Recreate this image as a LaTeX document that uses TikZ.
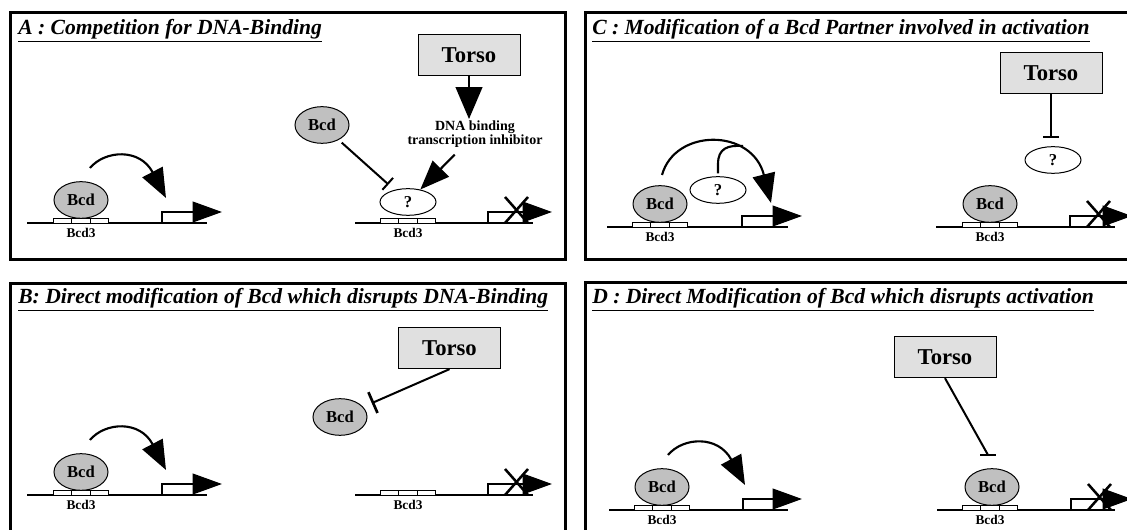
\documentclass[tikz,border=0pt]{standalone}
\usepackage{fontspec}
\setmainfont{Liberation Serif}
\usetikzlibrary{arrows.meta,shapes.geometric,calc}
\definecolor{bcdgray}{RGB}{192,192,192}
\definecolor{torsogray}{RGB}{224,224,224}
\newcommand{\bsite}[3]{%
  \foreach \k in {0,1,2} {\draw[site] ({#2-27.5+18.33*\k},#3) rectangle ({#2-27.5+18.33*(\k+1)},{#3-4.5});}
  \node[sitelab] (#1) at (#2,{#3+10}) {Bcd3};}
\newcommand{\promoter}[4]{%
  \coordinate (#1b) at (#2,#3);
  \coordinate (#1t) at (#4,{#3-11});
  \draw[prom] (#1b) |- (#1t);}
\newcommand{\xmark}[2]{%
  \draw[cross] ({#1-11.5},{#2-26}) -- ({#1+11.5},#2);
  \draw[cross] ({#1+11.5},{#2-26}) -- ({#1-11.5},#2);}
\begin{document}
\begin{tikzpicture}[x=0.75pt,y=-0.75pt,
  panel/.style={draw, line width=2.25pt},
  ttl/.style={anchor=base west, inner sep=0pt, font=\fontsize{16.2}{18}\selectfont\bfseries\itshape},
  bcd/.style={ellipse, draw, line width=0.75pt, fill=bcdgray, minimum width=40.5pt, minimum height=27.5pt, inner sep=0pt, font=\fontsize{12.5}{12.5}\selectfont\bfseries},
  qq/.style={ellipse, draw, line width=0.75pt, fill=white, minimum width=42pt, minimum height=20pt, inner sep=0pt, font=\fontsize{12.5}{12.5}\selectfont\bfseries},
  torso/.style={draw, line width=0.75pt, fill=torsogray, minimum width=76.5pt, minimum height=31pt, inner sep=0pt, font=\fontsize{17}{17}\selectfont\bfseries},
  sitelab/.style={inner sep=0pt, font=\fontsize{10}{10}\selectfont\bfseries},
  dna/.style={line width=0.8pt},
  site/.style={draw, line width=0.7pt, fill=white},
  prom/.style={line width=1.5pt, -{Triangle[length=22pt,width=15.5pt]}},
  actarr/.style={line width=1.6pt, -{Triangle[length=22pt,width=17pt]}},
  bigarr/.style={line width=1.6pt, -{Triangle[length=24pt,width=20pt]}},
  inhib/.style={line width=1.5pt, -{Bar[width=12pt,line width=1.5pt]}},
  cross/.style={line width=1.9pt}]
\useasboundingbox (0,0) rectangle (1127,530);
\clip (0,0) rectangle (1127,530);

% ---------------- Panel A ----------------
\draw[panel] (10,13) rectangle (565,260);
\node[ttl] (tA) at (18,35) {\underline{A : Competition for DNA-Binding}};
% left
\draw[dna] (27,223) -- (207,223);
\bsite{sA}{81}{223}
\node[bcd] (bA) at (81,200) {Bcd};
\promoter{pA}{162}{223}{222}
\coordinate (aAs) at (90,168);
\coordinate (aAe) at (166,198);
\draw[actarr] (aAs) .. controls (105,150) and (140,148) .. (aAe);
% right
\draw[dna] (355,223) -- (533,223);
\bsite{sA2}{408}{223}
\node[qq] (qA) at (408,202) {?};
\promoter{pA2}{488}{223}{552}
\xmark{516.5}{223}
\node[torso] (TA) at (469,55) {Torso};
\node[bcd] (bA2) at (322,125) {Bcd};
\node[inner sep=1pt, align=center, font=\fontsize{10.5}{10.5}\selectfont\bfseries] (lA) at (475,134) {DNA binding\\transcription inhibitor};
\draw[bigarr] (TA.south) -- (TA.south |- lA.north);
\draw[actarr, shorten <=6pt] (lA) -- (qA);
\draw[inhib, shorten <=3pt, shorten >=6pt] (bA2) -- (qA);

% ---------------- Panel B ----------------
\draw[panel] (10,284) rectangle (565,545);
\node[ttl] (tB) at (18,304) {\underline{B: Direct modification of Bcd which disrupts DNA-Binding}};
% left
\draw[dna] (27,495) -- (207,495);
\bsite{sB}{81}{495}
\node[bcd] (bB) at (81,472) {Bcd};
\promoter{pB}{162}{495}{222}
\coordinate (aBs) at (90,440);
\coordinate (aBe) at (166,470);
\draw[actarr] (aBs) .. controls (105,422) and (140,420) .. (aBe);
% right
\draw[dna] (355,495) -- (533,495);
\bsite{sB2}{408}{495}
\promoter{pB2}{488}{495}{552}
\xmark{516.5}{495}
\node[torso] (TB) at (449.5,348) {Torso};
\node[bcd] (bB2) at (340,417) {Bcd};
\draw[line width=1.5pt, -{Bar[width=17pt,line width=2pt]}, shorten >=7pt] (TB.south) -- (bB2);

% ---------------- Panel C ----------------
\draw[panel] (585,13) rectangle (1140,260);
\node[ttl] (tC) at (592,35) {\underline{C : Modification of a Bcd Partner involved in activation}};
% left
\draw[dna] (607,227) -- (788,227);
\bsite{sC}{660}{227}
\node[bcd] (bC) at (660,204) {Bcd};
\node[qq] (qC) at (718,190) {?};
\promoter{pC}{742}{227}{802}
\coordinate (aCs) at (662,175);
\coordinate (aCe) at (771,203);
\draw[actarr] (aCs) .. controls (675,128) and (752,128) .. (aCe);
\coordinate (aCj) at (743,146);
\draw[line width=1.6pt, shorten <=2pt] (qC.north) -- ++(0,-12) .. controls (718,148) and (728,145) .. (aCj);
% right
\draw[dna] (936,227) -- (1115,227);
\bsite{sC2}{990}{227}
\node[bcd] (bC2) at (990,204) {Bcd};
\promoter{pC2}{1070}{227}{1132}
\xmark{1098.5}{227}
\node[torso] (TC) at (1051,73) {Torso};
\node[qq] (qC2) at (1053,160) {?};
\draw[inhib, shorten >=6pt] (TC.south) -- (TC.south |- qC2.north);

% ---------------- Panel D ----------------
\draw[panel] (585,283) rectangle (1140,545);
\node[ttl] (tD) at (592,304) {\underline{D : Direct Modification of Bcd which disrupts activation}};
% left
\draw[dna] (609,510) -- (788,510);
\bsite{sD}{662}{510}
\node[bcd] (bD) at (662,487) {Bcd};
\promoter{pD}{743}{510}{802}
\coordinate (aDs) at (668,455);
\coordinate (aDe) at (745,485);
\draw[actarr] (aDs) .. controls (683,437) and (718,435) .. (aDe);
% right
\draw[dna] (937,510) -- (1115,510);
\bsite{sD2}{990}{510}
\node[bcd] (bD2) at (992,487) {Bcd};
\promoter{pD2}{1071}{510}{1132}
\xmark{1099.5}{510}
\node[torso] (TD) at (945,357) {Torso};
\coordinate (iD) at (988,455);
\draw[line width=1.5pt] (TD.south) -- (iD);
\draw[line width=1.5pt] ($(iD)+(-8,0)$) -- ($(iD)+(8,0)$);
\end{tikzpicture}
\end{document}
